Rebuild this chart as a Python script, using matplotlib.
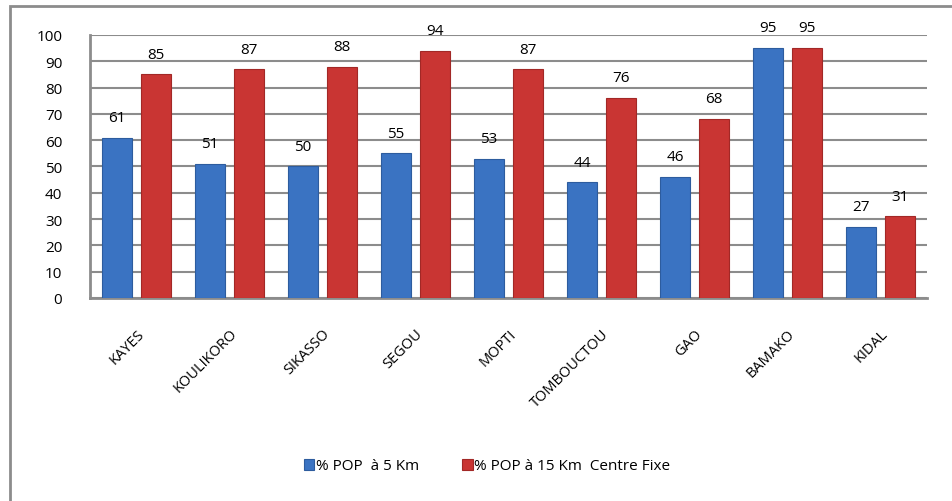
import numpy as np
import matplotlib.pyplot as plt
from matplotlib.patches import Rectangle

plt.rcParams['font.family'] = ['Open Sans', 'DejaVu Sans']

regions = ['KAYES', 'KOULIKORO', 'SIKASSO', 'SEGOU', 'MOPTI',
           'TOMBOUCTOU', 'GAO', 'BAMAKO', 'KIDAL']
pop_5km = [61, 51, 50, 55, 53, 44, 46, 95, 27]
pop_15km = [85, 87, 88, 94, 87, 76, 68, 95, 31]
yticks = [0, 10, 20, 30, 40, 50, 60, 70, 80, 90, 100]

fig = plt.figure(figsize=(9.52, 5.02), dpi=100)
ax = fig.add_axes([0.0945, 0.4044, 0.8792, 0.5239])

# outer chart border (only left and top visible in the picture)
fig.patches.append(Rectangle((10 / 952, -0.05), 1.1, 1 - 7 / 502 + 0.05,
                             transform=fig.transFigure, fill=False,
                             edgecolor='#8c8c8c', linewidth=2))

x = np.arange(len(regions))
w = 0.33
off = 0.21
b1 = ax.bar(x - off, pop_5km, w, color='#3a73c2', edgecolor='#2d5c9e',
            linewidth=0.8, label='% POP  à 5 Km', zorder=3)
b2 = ax.bar(x + off, pop_15km, w, color='#c93533', edgecolor='#a22826',
            linewidth=0.8, label='% POP à 15 Km  Centre Fixe', zorder=3)

for bars, vals in [(b1, pop_5km), (b2, pop_15km)]:
    for bar, v in zip(bars, vals):
        ax.annotate(str(v), (bar.get_x() + bar.get_width() / 2, v),
                    xytext=(0, 12), textcoords='offset points',
                    ha='center', va='baseline', fontsize=11)

ax.set_xlim(-0.5, len(regions) - 0.5)
ax.set_ylim(0, 100)
ax.set_yticks(yticks)
ax.yaxis.grid(True, color='#8c8c8c', linewidth=1.5, zorder=0)
ax.set_axisbelow(True)
ax.tick_params(axis='y', length=0, pad=20, labelsize=11)
ax.tick_params(axis='x', length=0, pad=20, labelsize=10.5)
ax.set_xticks(x)
ax.set_xticklabels(regions, rotation=45, ha='right', rotation_mode='anchor')

for s in ['top', 'right']:
    ax.spines[s].set_visible(False)
for s in ['left', 'bottom']:
    ax.spines[s].set_color('#8c8c8c')
    ax.spines[s].set_linewidth(2)

fig.legend(handles=[b1, b2], loc='center', bbox_to_anchor=(487 / 952, 1 - 467 / 502),
           ncol=2, frameon=False, fontsize=11, handlelength=0.7, handleheight=0.7,
           handletextpad=0.1, columnspacing=2.8)

fig.savefig('out.png', dpi=100)
